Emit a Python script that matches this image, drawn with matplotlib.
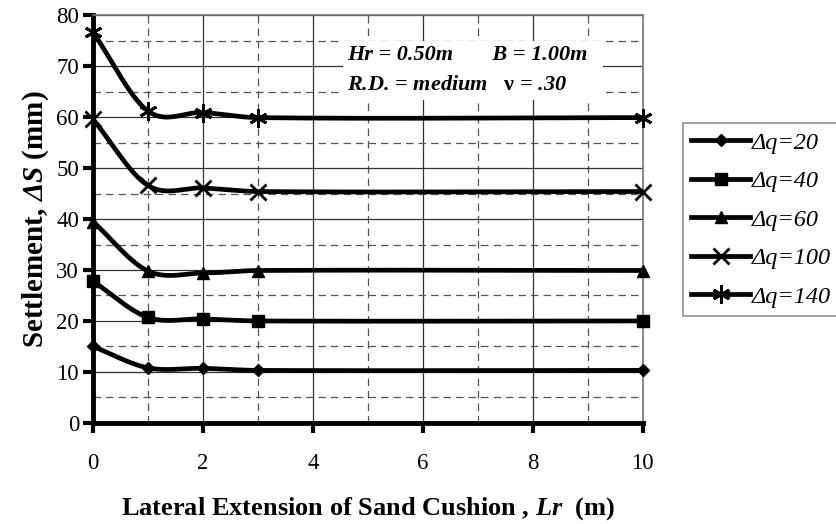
import numpy as np
import matplotlib
matplotlib.use('Agg')
import matplotlib.pyplot as plt
from matplotlib.lines import Line2D
from matplotlib.ticker import MultipleLocator

plt.rcParams['font.family'] = ['Liberation Serif', 'DejaVu Serif']
plt.rcParams['mathtext.fontset'] = 'custom'
plt.rcParams['mathtext.rm'] = 'Liberation Serif'
plt.rcParams['mathtext.it'] = 'Liberation Serif:italic'
plt.rcParams['mathtext.bf'] = 'Liberation Serif:bold'
plt.rcParams['mathtext.bfit'] = 'Liberation Serif:bold:italic'

# lateral extension Lr (m)
lr = [0, 1, 2, 3, 10]

# settlement (mm) for each load increment
s_20 = [15.0, 10.8, 10.7, 10.3, 10.3]
s_40 = [27.8, 20.7, 20.4, 20.0, 20.0]
s_60 = [39.5, 29.8, 29.4, 29.9, 29.9]
s_100 = [59.6, 46.6, 46.1, 45.4, 45.4]
s_140 = [76.7, 61.2, 60.9, 59.9, 59.9]

labels = ['Δq=20', 'Δq=40', 'Δq=60', 'Δq=100', 'Δq=140']
series = [s_20, s_40, s_60, s_100, s_140]

# marker style per series (Excel-like)
mk = [('D', 6, 'k'), ('s', 8.5, 'k'), ('^', 8.5, 'k'), ('x', 11, 'none'), ((6, 2, 0), 13, 'none')]


def smooth(x, y, n=60):
    # hermite spline through the points, like Excel's "smoothed line"
    x = np.asarray(x, float)
    y = np.asarray(y, float)
    m = np.zeros(len(x))
    for i in range(len(x)):
        if i == 0:
            m[i] = (y[1] - y[0]) / (x[1] - x[0])
        elif i == len(x) - 1:
            m[i] = (y[-1] - y[-2]) / (x[-1] - x[-2])
        else:
            m[i] = (y[i + 1] - y[i - 1]) / (x[i + 1] - x[i - 1])
    xs, ys = [], []
    for i in range(len(x) - 1):
        h = x[i + 1] - x[i]
        t = np.linspace(0, 1, n)
        h00 = 2 * t**3 - 3 * t**2 + 1
        h10 = t**3 - 2 * t**2 + t
        h01 = -2 * t**3 + 3 * t**2
        h11 = t**3 - t**2
        xs.extend(x[i] + t * h)
        ys.extend(h00 * y[i] + h10 * h * m[i] + h01 * y[i + 1] + h11 * h * m[i + 1])
    return np.array(xs), np.array(ys)


fig = plt.figure(figsize=(8.37, 5.24), dpi=100)
ax = fig.add_axes([0.111, 0.193, 0.657, 0.778])

handles = []
for y, lab, (m, ms, fc) in zip(series, labels, mk):
    xs, ys = smooth(lr, y)
    ax.plot(xs, ys, color='k', lw=3.4, solid_capstyle='butt', zorder=3)
    ax.plot(lr, y, ls='none', marker=m, ms=ms, mfc=fc, mec='k', mew=2 if fc == 'none' else 1,
            clip_on=False, zorder=4)
    handles.append(Line2D([], [], color='k', lw=3.4, marker=m, ms=ms, mfc=fc, mec='k',
                          mew=2 if fc == 'none' else 1, label=lab))

ax.set_xlim(0, 10)
ax.set_ylim(0, 80)
ax.xaxis.set_major_locator(MultipleLocator(2))
ax.xaxis.set_minor_locator(MultipleLocator(1))
ax.yaxis.set_major_locator(MultipleLocator(10))
ax.yaxis.set_minor_locator(MultipleLocator(5))

ax.set_axisbelow(True)
ax.grid(which='major', color='#333333', lw=0.9, ls='-')
ax.grid(which='minor', color='#555555', lw=0.9, ls=(0, (6, 4)))

for side in ['top', 'right']:
    ax.spines[side].set_color('#777777')
    ax.spines[side].set_linewidth(1.2)
for side in ['left', 'bottom']:
    ax.spines[side].set_color('k')
    ax.spines[side].set_linewidth(3.5)

ax.tick_params(which='major', direction='out', length=7, width=3, labelsize=16.5)
ax.tick_params(axis='x', which='major', pad=15)
ax.tick_params(axis='y', which='major', pad=3)
ax.tick_params(which='minor', length=0)

ax.set_xlabel('Lateral Extension of Sand Cushion , $\\mathbfit{Lr}$  (m)',
              fontsize=19, fontweight='bold', labelpad=15)
ax.set_ylabel('Settlement, $\\mathbfit{ΔS}$ (mm)', fontsize=21, fontweight='bold',
              labelpad=4)

ax.text(4.62, 69.2, 'Hr = 0.50m       B = 1.00m  \nR.D. = medium   $\\mathbf{ν}$ = .30',
        fontsize=16, fontweight='bold', fontstyle='italic', ha='left', va='center',
        linespacing=1.7, zorder=2,
        bbox=dict(fc='white', ec='none', pad=3))

leg = fig.legend(handles=handles, loc='upper left', bbox_to_anchor=(0.816, 0.765),
                 prop={'style': 'italic', 'size': 17.5}, frameon=True,
                 fancybox=False, edgecolor='#777777', handlelength=2.4,
                 labelspacing=0.68, borderpad=0.35, handletextpad=0.1, borderaxespad=0)
leg.get_frame().set_linewidth(1.2)

fig.savefig('out.png', dpi=100)
